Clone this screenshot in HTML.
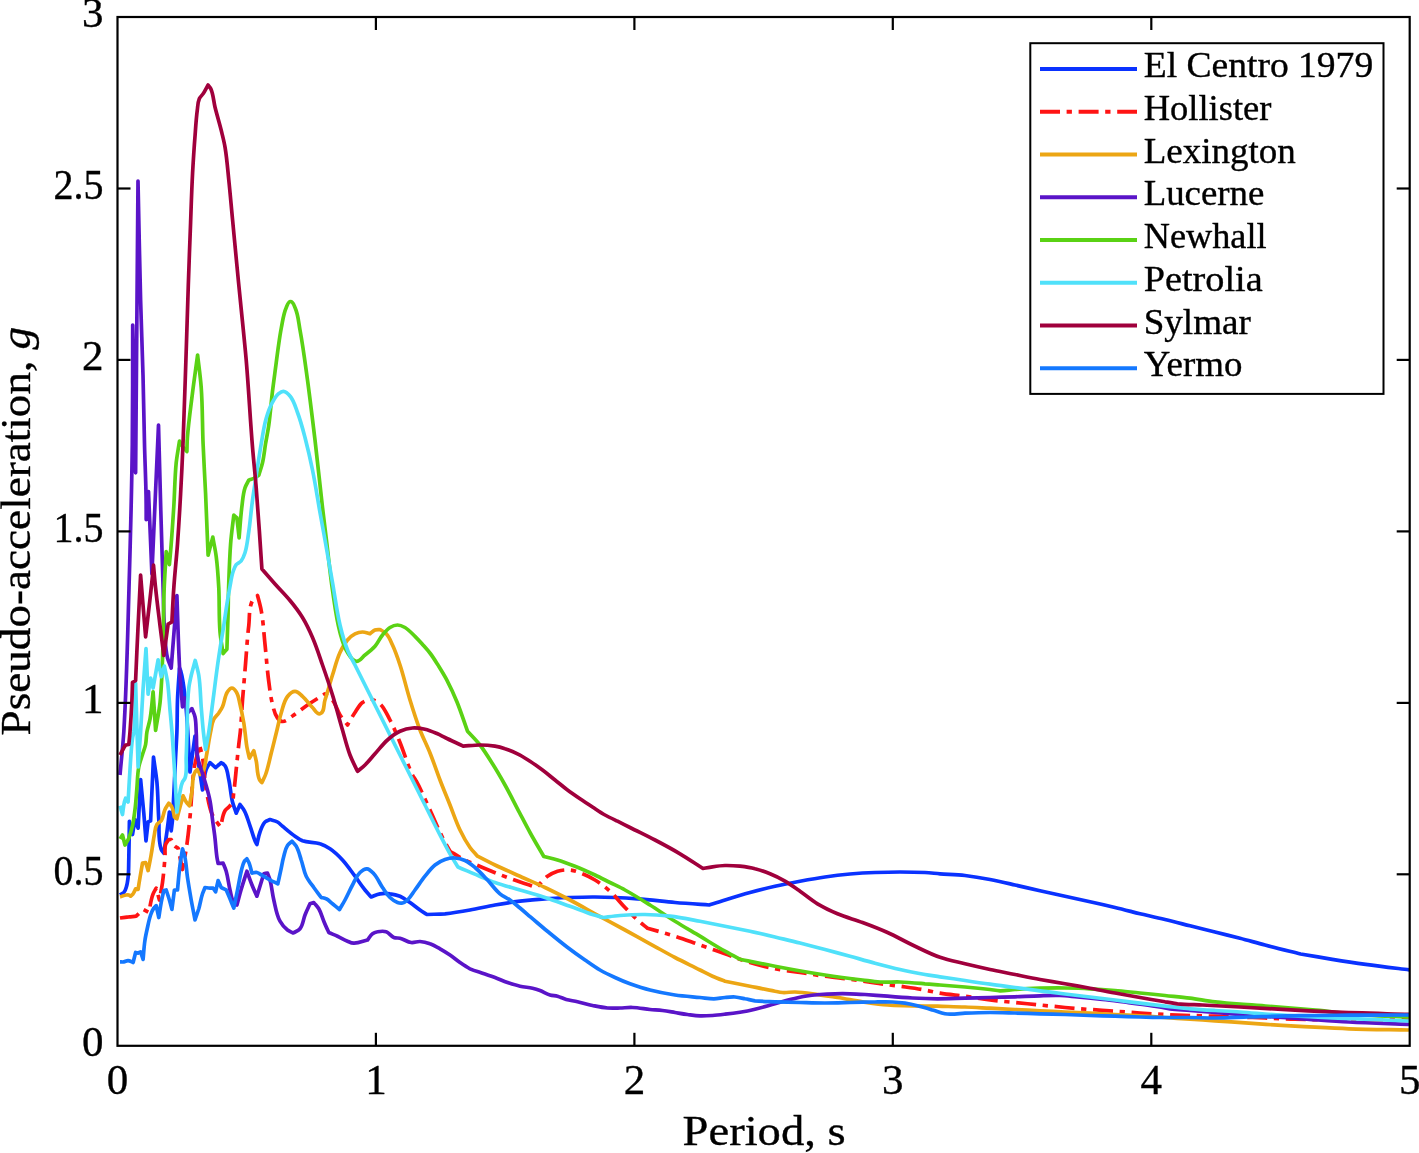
<!DOCTYPE html>
<html><head><meta charset="utf-8"><title>Response spectra</title>
<style>
html,body{margin:0;padding:0;background:#fff;}
body{width:1419px;height:1153px;overflow:hidden;}
svg{display:block;will-change:transform;}
text{font-family:"Liberation Serif",serif;fill:#000;stroke:#000;stroke-width:0.35px;}
</style></head><body>
<svg width="1419" height="1153" viewBox="0 0 1419 1153">
<rect width="1419" height="1153" fill="#fff"/>
<defs><clipPath id="pc"><rect x="117.5" y="17.0" width="1292.2" height="1028.8"/></clipPath></defs>
<g fill="none" stroke-width="3.7" stroke-linejoin="round" stroke-linecap="butt" clip-path="url(#pc)">
<path d="M120.0,895.0C121.2,894.2 122.8,893.6 123.8,892.5C125.0,891.1 125.7,889.3 126.2,887.5C127.3,884.3 127.7,880.9 128.1,877.5C128.8,871.3 128.6,865.0 128.8,858.8C129.1,846.3 129.2,833.9 129.4,821.4C130.4,825.8 131.5,830.1 132.5,834.5C133.3,829.5 134.2,824.5 135.0,819.5C136.0,822.4 137.1,825.3 138.1,828.2C138.9,812.0 139.8,795.8 140.6,779.5C141.7,790.8 142.8,802.0 143.8,813.2C144.6,822.4 145.2,831.6 146.0,840.8C146.7,834.5 147.4,828.2 148.1,822.0C148.9,821.6 149.8,821.2 150.6,820.8C151.6,799.5 152.5,778.2 153.5,757.0C154.6,765.3 156.1,773.6 156.9,782.0C158.1,794.5 157.9,807.0 158.8,819.5C159.4,829.5 157.9,840.0 161.2,849.5C161.7,850.9 162.9,852.0 163.8,853.2C164.8,846.2 165.9,839.1 166.9,832.0C167.8,825.3 168.6,818.7 169.4,812.0C170.0,818.2 170.6,824.5 171.2,830.8C171.7,827.0 172.2,823.3 172.5,819.5C173.2,811.2 173.3,802.8 173.8,794.5C174.4,782.0 175.0,769.5 175.6,757.0C176.0,748.7 176.6,740.3 176.9,732.0C177.3,721.3 177.1,710.7 177.5,700.0C177.9,689.3 178.8,678.7 179.5,668.0C179.9,668.8 180.3,669.6 180.6,670.5C183.1,679.0 184.0,687.9 185.0,696.8C187.9,721.7 188.3,746.9 190.0,772.0C191.7,760.0 193.3,748.0 195.0,736.0C196.0,744.0 196.9,752.0 198.0,760.0C199.4,770.0 201.0,780.0 202.5,790.0C203.8,783.2 203.9,776.1 206.2,769.5C207.1,767.0 208.8,764.9 210.0,762.6C211.9,764.3 213.7,765.9 215.6,767.6C217.5,765.9 219.4,764.3 221.2,762.6C222.5,763.6 224.1,764.4 225.0,765.8C227.6,769.8 227.7,774.9 228.8,779.5C230.4,786.9 230.7,794.6 232.5,802.0C233.5,805.8 235.0,809.5 236.2,813.2C237.5,810.3 238.8,807.4 240.0,804.5C241.5,806.6 243.2,808.5 244.4,810.8C246.9,815.5 248.2,820.7 250.0,825.8C251.8,830.7 253.0,835.9 255.0,840.8C255.5,842.0 256.3,843.2 256.9,844.5C257.9,840.3 258.5,836.0 260.0,832.0C261.3,828.5 262.4,824.6 265.0,822.0C266.3,820.7 268.3,820.3 270.0,819.5C272.5,820.3 275.2,820.7 277.5,822.0C279.4,823.1 280.8,824.9 282.5,826.2C286.6,829.6 290.6,833.2 295.0,836.2C297.4,837.9 299.8,839.7 302.5,840.8C308.0,842.8 314.4,841.9 320.0,843.8C323.5,844.9 326.9,846.7 330.0,848.8C334.6,851.9 338.7,855.9 342.5,860.0C347.1,865.0 350.9,870.8 355.0,876.2C358.4,880.8 361.4,885.6 365.0,890.0C367.0,892.4 369.2,894.7 371.2,897.0C374.2,895.9 376.9,894.3 380.0,893.8C383.3,893.2 386.7,893.3 390.0,893.8C393.4,894.2 396.8,894.9 400.0,896.2C403.6,897.8 406.8,900.3 410.0,902.5C413.4,904.9 416.6,907.6 420.0,910.0C422.3,911.6 424.7,913.0 427.0,914.5C433.0,914.2 439.0,914.3 445.0,913.8C453.4,912.9 461.7,911.5 470.0,910.0C478.4,908.5 486.6,906.5 495.0,905.0C503.3,903.5 511.6,902.3 520.0,901.2C528.3,900.2 536.6,899.4 545.0,898.8C553.3,898.1 561.7,897.8 570.0,897.5C578.3,897.2 586.7,896.9 595.0,897.0C609.2,897.1 623.4,897.8 637.5,898.8C650.0,899.6 662.5,901.4 675.0,902.5C686.4,903.5 697.8,904.2 709.2,905.0C714.5,903.3 719.7,901.6 725.0,900.0C733.3,897.4 741.6,894.8 750.0,892.5C758.3,890.2 766.6,888.1 775.0,886.2C783.3,884.4 791.6,882.8 800.0,881.2C808.3,879.7 816.6,878.2 825.0,877.0C833.3,875.8 841.6,874.8 850.0,874.0C858.3,873.3 866.7,872.8 875.0,872.5C883.3,872.2 891.7,872.0 900.0,872.0C908.3,872.0 916.7,872.1 925.0,872.5C930.0,872.8 935.0,873.4 940.0,873.8C948.3,874.4 956.7,874.5 965.0,875.5C973.4,876.5 981.7,877.9 990.0,879.5C998.4,881.1 1006.7,883.1 1015.0,885.0C1023.3,886.9 1031.7,888.9 1040.0,890.8C1048.3,892.6 1056.7,894.4 1065.0,896.2C1073.3,898.1 1081.7,899.9 1090.0,901.8C1098.3,903.6 1106.7,905.5 1115.0,907.5C1123.4,909.5 1131.6,911.7 1140.0,913.8C1148.3,915.7 1156.7,917.5 1165.0,919.5C1173.4,921.5 1181.7,923.7 1190.0,925.8C1198.3,927.8 1206.7,929.9 1215.0,932.0C1223.3,934.1 1231.7,936.1 1240.0,938.2C1248.4,940.4 1256.6,942.8 1265.0,945.0C1276.8,948.1 1288.7,951.0 1300.6,954.0C1311.2,955.8 1321.7,957.6 1332.3,959.3C1343.4,961.1 1354.5,962.8 1365.7,964.3C1380.2,966.3 1394.7,968.0 1409.2,969.8" stroke="#0a32ff"/>
<path d="M120.0,918.0C122.9,917.6 125.8,917.2 128.8,916.9C131.2,916.6 133.8,916.5 136.2,916.2C138.5,914.0 140.8,911.7 143.1,909.4C145.0,910.4 146.9,911.5 148.8,912.5C150.2,906.2 150.8,899.7 153.1,893.8C153.9,891.7 155.2,890.0 156.2,888.1C157.3,892.1 158.3,896.0 159.4,900.0C160.4,894.2 161.7,888.4 162.5,882.5C163.0,878.8 163.4,875.0 163.8,871.2C164.2,866.3 164.7,861.3 165.0,856.2C165.3,852.3 164.4,848.2 165.6,844.5C166.2,842.6 167.7,841.2 168.8,839.5C169.6,839.5 170.4,839.5 171.2,839.5C172.3,841.6 172.9,844.0 174.4,845.8C175.4,846.9 176.9,847.4 178.1,848.2C179.6,855.3 181.0,862.4 182.5,869.5C184.0,861.2 185.7,852.9 186.9,844.5C188.2,835.4 189.1,826.2 190.0,817.0C191.7,800.4 191.8,783.5 194.4,767.0C195.1,762.4 196.5,757.8 197.5,753.2C198.1,750.3 198.8,747.4 199.4,744.5C200.4,748.7 201.8,752.8 202.5,757.0C203.9,765.3 203.9,773.7 205.0,782.0C205.7,787.0 206.5,792.0 207.5,797.0C208.5,802.0 209.5,807.2 211.2,812.0C212.2,814.6 213.5,817.1 215.0,819.5C216.6,822.2 218.7,824.5 220.6,827.0C222.1,821.6 222.2,815.6 225.0,810.8C225.9,809.2 227.6,808.3 228.8,807.0C229.9,805.8 231.2,804.7 231.9,803.2C233.5,799.8 233.2,795.8 233.8,792.0C234.8,784.5 235.5,777.0 236.2,769.5C237.1,761.2 237.8,752.8 238.8,744.5C239.2,740.3 239.9,736.2 240.3,732.0C241.3,721.5 241.7,711.0 242.5,700.5C243.5,688.0 244.6,675.5 245.6,663.0C246.6,650.5 247.3,638.0 248.8,625.5C249.7,617.1 248.7,608.0 252.5,600.5C253.6,598.4 255.8,597.2 257.5,595.5C258.8,600.5 260.3,605.4 261.2,610.5C263.3,621.6 263.8,633.0 265.0,644.2C266.3,656.7 267.1,669.3 268.8,681.8C269.8,689.3 270.6,696.9 272.5,704.2C273.7,709.0 274.5,714.1 277.5,718.0C278.7,719.6 280.5,721.4 282.5,721.5C286.3,721.7 289.3,718.0 292.5,716.0C297.7,712.7 302.4,708.5 307.5,705.0C313.2,701.1 319.2,697.5 325.0,693.8C327.5,695.9 330.5,697.5 332.5,700.0C336.0,704.4 337.1,710.2 340.0,715.0C342.2,718.5 345.0,721.7 347.5,725.0C350.0,720.8 352.3,716.5 355.0,712.5C357.3,709.0 359.2,705.1 362.5,702.5C365.0,700.5 368.4,700.0 371.3,698.8C374.2,700.5 377.6,701.5 380.0,703.8C384.6,708.2 387.0,714.4 390.0,720.0C393.8,727.3 396.9,734.9 400.0,742.5C404.4,753.2 407.3,764.6 412.5,775.0C413.6,777.1 415.1,778.9 416.2,781.0C421.4,790.4 425.5,800.3 430.0,810.0C434.2,819.1 438.0,828.5 442.5,837.5C444.8,842.2 447.5,846.7 450.0,851.2C454.2,853.8 458.2,856.5 462.5,858.8C469.0,862.1 475.8,864.7 482.5,867.5C490.8,871.0 499.1,874.4 507.5,877.5C517.1,881.1 526.8,884.2 536.5,887.5C540.2,883.8 543.3,879.3 547.5,876.2C550.5,874.1 553.9,872.3 557.5,871.2C561.5,870.1 565.8,869.6 570.0,870.0C574.3,870.4 578.5,872.1 582.5,873.8C586.8,875.5 591.0,877.6 595.0,880.0C600.3,883.3 605.4,887.1 610.0,891.2C615.5,896.2 619.9,902.2 625.0,907.5C629.1,911.7 633.1,916.0 637.5,920.0C640.7,922.9 644.2,925.5 647.5,928.2C656.7,930.9 665.9,933.3 675.0,936.2C683.4,938.9 691.7,942.1 700.0,945.0C708.3,947.9 716.7,950.8 725.0,953.8C733.3,956.7 741.5,960.0 750.0,962.5C758.2,965.0 766.6,967.1 775.0,968.8C783.3,970.4 791.7,971.2 800.0,972.5C808.3,973.8 816.6,975.1 825.0,976.2C833.3,977.4 841.7,978.1 850.0,979.2C858.4,980.4 866.7,981.8 875.0,983.0C883.3,984.2 891.7,985.1 900.0,986.2C908.3,987.4 916.7,988.5 925.0,990.0C930.0,990.9 935.0,992.4 940.0,993.2C948.3,994.6 956.7,995.1 965.0,996.2C973.4,997.4 981.6,999.0 990.0,1000.0C998.3,1001.0 1006.7,1001.7 1015.0,1002.5C1023.3,1003.3 1031.7,1004.2 1040.0,1005.0C1048.3,1005.8 1056.7,1006.7 1065.0,1007.5C1073.3,1008.2 1081.7,1008.9 1090.0,1009.5C1098.3,1010.1 1106.7,1010.7 1115.0,1011.2C1123.3,1011.8 1131.7,1012.5 1140.0,1013.0C1148.3,1013.5 1156.7,1014.1 1165.0,1014.5C1173.3,1014.9 1181.7,1015.2 1190.0,1015.5C1198.3,1015.8 1206.7,1016.0 1215.0,1016.2C1223.3,1016.5 1231.7,1016.7 1240.0,1017.0C1248.3,1017.3 1256.7,1017.7 1265.0,1018.0C1275.0,1018.4 1285.0,1019.0 1295.0,1019.2C1333.0,1020.2 1371.0,1019.8 1409.0,1020.0" stroke="#ff1414" stroke-dasharray="20 6.6 5.3 6.7"/>
<path d="M120.0,896.9C122.1,896.3 124.1,895.3 126.2,895.0C127.1,894.9 128.0,894.8 128.8,895.0C129.5,895.2 130.0,895.8 130.6,896.2C131.4,895.4 132.4,894.7 133.1,893.8C134.2,892.2 134.8,890.4 135.6,888.8C136.4,889.0 137.3,889.2 138.1,889.4C138.7,885.4 139.3,881.5 140.0,877.5C140.8,872.7 141.7,867.9 142.5,863.1C143.5,862.9 144.6,862.7 145.6,862.5C146.4,865.2 147.3,867.9 148.1,870.6C149.2,865.2 150.3,859.9 151.2,854.5C152.4,847.9 153.1,841.1 154.4,834.5C155.1,831.1 155.1,827.4 156.9,824.5C157.9,822.9 160.2,822.3 161.2,820.8C163.5,817.5 163.3,813.1 165.0,809.5C166.0,807.3 167.5,805.3 168.8,803.2C169.8,804.5 171.2,805.5 171.9,807.0C173.5,810.1 173.6,813.7 174.4,817.0C175.2,817.6 176.1,818.3 176.9,818.9C177.9,814.9 178.9,811.0 180.0,807.0C181.0,803.2 182.1,799.5 183.1,795.8C184.2,797.8 185.0,800.1 186.2,802.0C187.1,803.4 188.3,804.5 189.4,805.8C190.2,801.2 191.1,796.6 191.9,792.0C193.0,785.3 191.9,778.0 195.0,772.0C195.5,770.9 196.7,770.3 197.5,769.5C198.3,771.2 199.2,772.8 200.0,774.5C201.2,772.8 202.9,771.4 203.8,769.5C205.5,765.6 205.5,761.2 206.2,757.0C207.8,748.7 208.9,740.3 210.6,732.0C211.5,727.7 211.8,723.2 213.8,719.2C214.9,716.9 217.2,715.2 218.8,713.0C220.1,711.0 221.5,709.0 222.5,706.8C224.7,702.0 224.6,696.1 227.5,691.8C228.6,690.2 230.0,688.0 231.9,688.0C233.8,688.0 235.2,690.1 236.2,691.8C238.6,695.4 238.9,700.0 240.0,704.2C241.5,710.4 242.7,716.7 243.8,723.0C244.3,726.0 244.6,729.0 245.0,732.0C245.7,737.0 246.0,742.0 246.9,747.0C247.6,750.8 248.6,754.5 249.4,758.2C250.8,755.8 252.3,753.2 253.8,750.8C254.6,754.1 255.5,757.4 256.2,760.8C257.5,767.0 256.8,773.7 259.4,779.5C259.9,780.7 261.1,781.6 261.9,782.6C263.1,779.9 264.6,777.3 265.6,774.5C268.1,767.6 269.4,760.3 271.2,753.2C273.1,746.2 274.7,739.1 276.5,732.0C278.1,725.7 279.3,719.2 281.2,713.0C283.0,707.4 283.9,701.1 287.5,696.5C289.4,694.1 292.0,691.3 295.0,691.3C298.0,691.3 300.2,694.3 302.5,696.3C306.3,699.6 308.9,704.0 312.5,707.5C314.8,709.8 316.8,714.6 320.0,713.8C324.7,712.5 323.5,704.6 325.0,700.0C327.7,691.7 329.9,683.3 332.5,675.0C334.9,667.5 336.7,659.7 340.0,652.5C342.0,648.1 344.3,643.7 347.5,640.0C349.6,637.5 352.1,635.2 355.0,633.8C357.3,632.7 359.9,632.0 362.5,632.0C365.1,632.0 367.5,633.2 370.0,633.8C371.7,632.5 373.1,630.8 375.0,630.0C376.6,629.4 378.3,629.7 380.0,629.5C382.1,630.9 384.6,631.9 386.3,633.8C389.2,637.0 390.7,641.1 392.5,645.0C395.5,651.5 397.8,658.2 400.0,665.0C403.8,676.5 406.4,688.4 410.0,700.0C413.1,710.1 416.2,720.2 420.0,730.0C423.0,737.8 426.9,745.2 430.0,753.0C433.6,761.9 436.6,771.0 440.0,780.0C443.2,788.4 446.7,796.7 450.0,805.0C453.3,813.3 456.1,821.9 460.0,830.0C462.9,836.1 466.1,842.0 470.0,847.5C472.2,850.6 475.0,853.3 477.5,856.2C483.3,859.2 489.1,862.2 495.0,865.0C503.3,868.9 511.7,872.5 520.0,876.2C528.3,880.0 536.7,883.6 545.0,887.5C553.4,891.5 561.7,895.7 570.0,900.0C578.4,904.4 586.7,909.2 595.0,913.8C605.0,919.2 615.0,924.6 625.0,930.0C633.3,934.6 641.7,939.2 650.0,943.8C658.3,948.3 666.6,953.1 675.0,957.5C683.3,961.8 691.7,965.8 700.0,970.0C704.2,972.1 708.3,974.3 712.5,976.2C716.6,978.1 720.8,979.6 725.0,981.2C733.3,982.9 741.7,984.6 750.0,986.2C758.3,987.9 766.6,989.7 775.0,991.2C777.5,991.7 780.0,992.3 782.5,992.5C786.7,992.8 790.8,991.9 795.0,992.0C800.9,992.2 806.7,993.0 812.5,993.8C820.9,994.8 829.2,996.2 837.5,997.5C845.8,998.8 854.1,1000.5 862.5,1001.8C870.8,1003.0 879.1,1004.3 887.5,1005.0C895.8,1005.7 904.2,1005.5 912.5,1005.8C920.8,1006.0 929.2,1006.1 937.5,1006.2C946.7,1006.5 955.8,1006.6 965.0,1007.0C973.3,1007.3 981.7,1007.8 990.0,1008.2C998.3,1008.7 1006.7,1009.1 1015.0,1009.5C1023.3,1009.9 1031.7,1010.3 1040.0,1010.8C1048.3,1011.2 1056.7,1011.6 1065.0,1012.0C1073.3,1012.4 1081.7,1012.8 1090.0,1013.2C1098.3,1013.7 1106.7,1014.1 1115.0,1014.5C1123.3,1014.9 1131.7,1015.3 1140.0,1015.8C1148.3,1016.3 1156.7,1016.9 1165.0,1017.5C1173.3,1018.1 1181.7,1018.7 1190.0,1019.2C1198.3,1019.8 1206.7,1020.2 1215.0,1020.8C1226.3,1021.5 1237.5,1022.4 1248.8,1023.2C1259.9,1024.0 1270.9,1024.7 1282.0,1025.4C1293.0,1026.1 1304.0,1026.6 1315.0,1027.2C1326.3,1027.8 1337.7,1028.4 1349.0,1028.8C1369.0,1029.5 1389.0,1029.6 1409.0,1030.0" stroke="#eca614"/>
<path d="M120.0,775.0C121.2,760.7 122.9,746.4 123.8,732.0C126.7,684.1 127.6,636.0 129.0,588.0C130.4,540.0 131.7,492.0 132.3,444.0C132.8,404.3 132.6,364.7 132.7,325.0C133.7,374.2 134.6,423.5 135.6,472.8C136.4,375.5 137.2,278.2 138.0,181.0C138.9,220.7 139.5,260.3 140.6,300.0C141.3,325.0 142.3,350.0 143.0,375.0C143.6,398.0 143.9,421.0 144.5,444.0C144.9,460.7 145.7,477.3 146.0,494.0C146.2,502.5 146.2,511.1 146.2,519.6C147.0,510.2 147.8,500.9 148.5,491.5C149.6,519.0 150.8,546.5 151.9,574.0C154.1,524.3 156.3,474.7 158.5,425.0C160.0,479.3 161.3,533.7 163.1,588.0C163.7,604.7 163.6,621.4 165.0,638.0C165.5,644.7 165.9,651.5 167.5,658.0C168.4,661.5 170.0,664.7 171.2,668.0C173.1,643.8 175.0,619.7 176.9,595.5C177.9,622.2 178.4,648.9 180.0,675.5C180.6,685.9 181.7,696.3 182.5,706.8C183.2,703.8 184.0,700.9 184.8,698.0C185.7,703.0 186.6,708.0 187.5,713.0C189.0,711.5 190.4,710.1 191.9,708.6C192.9,711.3 194.4,713.9 195.0,716.8C196.1,721.7 195.9,726.9 196.2,732.0C196.8,740.3 196.1,748.8 197.5,757.0C198.2,761.3 200.0,765.3 201.2,769.5C202.9,774.9 204.7,780.3 206.2,785.8C207.6,790.7 209.0,795.7 210.0,800.8C211.2,806.9 211.7,813.2 212.5,819.5C213.3,825.8 214.3,832.0 215.0,838.2C215.7,844.5 216.0,850.8 216.9,857.0C217.2,859.2 217.7,861.3 218.1,863.5C219.8,863.4 221.4,863.2 223.1,863.1C224.2,865.8 225.4,868.5 226.2,871.2C228.0,877.4 228.5,883.8 230.0,890.0C231.1,894.2 231.3,898.9 233.8,902.5C234.5,903.6 235.8,904.2 236.9,905.0C238.3,900.0 239.5,895.0 241.0,890.0C242.8,883.7 244.9,877.5 246.9,871.2C248.6,875.8 250.2,880.5 252.0,885.0C253.5,888.8 255.3,892.5 256.9,896.2C259.2,888.8 261.5,881.2 263.8,873.8C265.0,873.5 266.2,873.3 267.5,873.1C268.3,875.4 269.4,877.6 270.0,880.0C271.8,886.5 272.2,893.4 273.8,900.0C275.5,907.2 276.5,914.8 280.0,921.2C281.8,924.6 284.5,927.6 287.5,930.0C289.2,931.3 291.3,932.0 293.2,933.0C295.5,931.6 298.3,930.8 300.0,928.8C303.1,925.0 303.2,919.5 305.0,915.0C306.5,911.2 308.3,907.5 310.0,903.8C311.2,903.3 312.5,902.9 313.8,902.5C315.4,904.6 317.4,906.4 318.8,908.8C321.0,912.6 322.0,917.1 323.8,921.2C325.3,925.0 327.1,928.8 328.8,932.5C331.7,933.8 334.6,934.9 337.5,936.2C340.9,937.8 344.0,939.8 347.5,941.2C349.5,942.1 351.6,943.2 353.8,943.2C358.5,943.4 362.9,941.1 367.5,940.0C369.2,937.9 370.4,935.3 372.5,933.8C373.9,932.7 375.7,932.1 377.5,931.8C380.4,931.2 383.5,930.8 386.2,931.8C389.2,932.8 390.8,936.3 393.8,937.5C395.7,938.3 398.0,937.8 400.0,938.2C403.9,939.2 407.3,942.0 411.2,942.5C414.2,942.9 417.1,941.3 420.0,941.5C423.4,941.7 426.8,942.6 430.0,943.8C433.5,945.0 436.7,946.9 440.0,948.8C443.4,950.7 446.8,952.8 450.0,955.0C453.4,957.4 456.6,960.1 460.0,962.5C463.2,964.7 466.5,967.0 470.0,968.8C474.0,970.7 478.3,971.8 482.5,973.2C486.7,974.7 490.9,976.0 495.0,977.5C499.2,979.1 503.3,981.0 507.5,982.5C511.6,983.9 515.8,985.3 520.0,986.2C524.1,987.2 528.4,987.3 532.5,988.2C535.0,988.8 537.6,989.6 540.0,990.5C543.4,991.8 546.5,993.9 550.0,995.0C552.4,995.7 555.1,995.6 557.5,996.2C560.5,997.1 563.3,998.7 566.2,999.5C569.9,1000.5 573.8,1000.9 577.5,1001.8C582.5,1002.9 587.5,1004.5 592.5,1005.5C597.5,1006.5 602.4,1007.6 607.5,1008.0C611.7,1008.3 615.8,1008.1 620.0,1008.0C624.2,1007.9 628.3,1007.3 632.5,1007.5C638.4,1007.7 644.2,1008.9 650.0,1009.5C654.2,1009.9 658.3,1010.0 662.5,1010.5C666.7,1011.0 670.8,1011.8 675.0,1012.5C679.2,1013.2 683.3,1014.0 687.5,1014.5C691.7,1015.0 695.8,1015.6 700.0,1015.8C704.2,1015.9 708.3,1015.7 712.5,1015.5C716.7,1015.2 720.8,1014.7 725.0,1014.2C730.0,1013.7 735.0,1013.1 740.0,1012.2C745.0,1011.4 750.0,1010.4 755.0,1009.2C761.7,1007.7 768.3,1005.6 775.0,1003.8C780.0,1002.4 785.0,1000.8 790.0,999.5C795.0,998.3 800.0,997.1 805.0,996.2C810.0,995.4 815.0,994.9 820.0,994.5C825.0,994.1 830.0,993.9 835.0,993.8C840.0,993.6 845.0,993.6 850.0,993.8C855.0,993.9 860.0,994.2 865.0,994.5C872.5,995.0 880.0,995.7 887.5,996.2C895.8,996.9 904.2,997.6 912.5,998.0C920.8,998.4 929.2,998.7 937.5,998.8C946.7,998.8 955.8,998.5 965.0,998.2C973.3,998.0 981.7,997.8 990.0,997.5C998.3,997.2 1006.7,997.0 1015.0,996.8C1023.3,996.5 1031.7,996.0 1040.0,995.8C1046.7,995.6 1053.3,995.3 1060.0,995.5C1065.9,995.7 1071.7,996.5 1077.5,997.0C1085.8,997.8 1094.2,998.6 1102.5,999.5C1110.8,1000.4 1119.2,1001.5 1127.5,1002.5C1135.8,1003.5 1144.2,1004.5 1152.5,1005.8C1158.4,1006.6 1164.1,1008.0 1170.0,1008.8C1176.6,1009.6 1183.3,1009.9 1190.0,1010.5C1198.3,1011.2 1206.7,1011.8 1215.0,1012.5C1226.3,1013.4 1237.5,1014.4 1248.8,1015.2C1265.5,1016.5 1282.3,1017.5 1299.0,1018.6C1315.7,1019.7 1332.3,1021.1 1349.0,1022.0C1369.0,1023.1 1389.0,1023.6 1409.0,1024.4" stroke="#5a14c8"/>
<path d="M120.0,838.9C120.8,837.6 121.7,836.3 122.5,835.0C123.3,838.3 124.2,841.7 125.0,845.0C126.2,842.8 127.7,840.6 128.8,838.2C130.4,834.2 131.5,830.0 132.5,825.8C133.7,820.4 134.3,814.9 135.0,809.5C135.9,802.4 136.3,795.3 136.9,788.2C137.5,781.2 137.4,774.0 138.8,767.0C139.6,762.7 141.2,758.7 142.5,754.5C143.5,751.2 144.9,747.9 145.6,744.5C146.4,740.4 146.2,736.1 146.9,732.0C147.6,727.7 149.2,723.6 150.0,719.2C151.6,710.2 152.1,700.9 153.1,691.8C153.9,704.7 154.8,717.6 155.6,730.5C157.1,721.3 158.9,712.2 160.0,703.0C161.0,693.9 161.4,684.7 161.9,675.5C162.5,663.0 162.8,650.5 163.1,638.0C163.5,621.3 163.5,604.7 164.2,588.0C164.7,575.8 165.6,563.7 166.2,551.5C167.3,555.9 168.3,560.2 169.4,564.6C170.0,557.7 170.7,550.9 171.2,544.0C172.2,531.5 173.0,519.0 173.8,506.5C174.7,491.9 174.8,477.3 176.2,462.8C177.0,455.5 178.4,448.2 179.5,441.0C180.7,443.0 181.7,445.1 183.0,447.0C184.2,448.6 185.6,450.0 186.9,451.5C187.1,446.8 187.0,442.1 187.4,437.4C188.5,422.8 190.6,408.2 192.4,393.7C194.0,380.8 195.9,367.9 197.6,355.0C198.8,365.8 200.4,376.6 201.2,387.4C202.6,406.2 202.3,425.1 203.1,444.0C203.8,460.7 204.8,477.3 205.6,494.0C206.5,514.4 207.3,534.8 208.1,555.2C209.7,549.2 211.2,543.1 212.8,537.1C213.9,543.6 215.4,550.0 216.2,556.5C217.6,566.9 218.2,577.5 218.8,588.0C219.5,602.6 218.8,617.2 220.0,631.8C220.6,639.1 222.1,646.3 223.1,653.6C224.4,652.1 225.6,650.7 226.9,649.2C227.3,637.2 227.8,625.1 228.1,613.0C228.3,604.7 228.3,596.3 228.6,588.0C229.1,573.3 229.5,558.6 230.6,544.0C231.3,534.4 232.7,524.8 233.8,515.2C234.8,516.1 235.8,516.9 236.9,517.8C237.6,524.4 238.4,531.1 239.1,537.8C240.0,527.3 240.6,516.9 241.9,506.5C242.7,500.2 243.0,493.8 245.0,487.8C245.9,485.1 247.5,482.8 248.8,480.2C250.4,479.6 252.2,479.2 253.8,478.4C255.5,477.5 257.1,476.3 258.8,475.2C260.0,471.1 261.5,467.0 262.5,462.8C263.9,456.6 264.5,450.2 265.5,444.0C266.6,437.7 267.9,431.4 268.8,425.0C270.3,414.0 271.1,403.0 272.4,392.0C273.2,385.3 274.1,378.7 275.0,372.0C276.2,363.0 277.3,354.0 278.6,345.0C279.4,339.3 280.2,333.6 281.3,328.0C282.7,321.1 283.4,313.9 286.3,307.5C287.3,305.3 288.1,301.5 290.5,301.5C293.0,301.5 294.0,305.2 295.0,307.5C298.2,314.5 298.6,322.4 300.0,330.0C303.1,346.6 305.2,363.3 307.5,380.0C310.2,400.0 312.6,420.0 315.0,440.0C317.7,462.5 319.9,485.0 322.5,507.5C323.7,518.0 325.0,528.5 326.3,539.0C328.4,556.0 330.0,573.1 332.5,590.0C334.6,604.2 336.2,618.6 340.0,632.5C341.9,639.4 343.6,646.5 347.5,652.5C349.7,656.0 352.2,661.0 356.3,661.3C359.9,661.6 362.2,657.2 365.0,655.0C368.5,652.3 372.1,649.6 375.0,646.3C378.0,642.9 379.6,638.5 382.5,635.0C384.7,632.3 387.0,629.4 390.0,627.5C392.2,626.1 394.9,625.0 397.5,625.0C400.1,625.0 402.7,626.2 405.0,627.5C408.8,629.7 411.8,633.2 415.0,636.3C417.8,639.1 420.4,642.1 423.0,645.0C425.5,647.8 428.0,650.5 430.3,653.5C433.1,657.2 435.5,661.1 438.0,665.0C441.1,670.0 444.3,675.1 447.0,680.3C450.7,687.4 454.0,694.6 457.0,702.0C460.9,711.6 464.0,721.5 467.5,731.2C471.7,735.8 476.2,740.1 480.0,745.0C484.6,750.9 488.5,757.4 492.5,763.8C496.9,770.7 501.0,777.8 505.0,785.0C509.4,792.8 513.3,800.8 517.5,808.8C521.7,816.7 525.7,824.7 530.0,832.5C534.4,840.6 539.2,848.5 543.8,856.5C548.3,857.7 553.0,858.6 557.5,860.0C563.4,861.8 569.2,864.0 575.0,866.2C581.8,868.9 588.4,871.9 595.0,875.0C600.1,877.4 605.0,880.0 610.0,882.5C615.0,885.0 620.1,887.3 625.0,890.0C633.5,894.7 641.8,899.9 650.0,905.0C658.4,910.3 666.6,916.0 675.0,921.2C683.2,926.4 691.7,931.2 700.0,936.2C708.3,941.2 716.5,946.5 725.0,951.2C729.9,954.0 735.0,956.6 740.0,959.2C751.7,961.6 763.3,964.1 775.0,966.2C791.6,969.4 808.3,972.4 825.0,975.0C837.5,976.9 850.0,978.5 862.5,980.0C868.3,980.7 874.1,981.7 880.0,982.0C886.7,982.4 893.3,981.8 900.0,982.0C908.3,982.3 916.7,983.1 925.0,983.8C930.0,984.1 935.0,984.6 940.0,985.0C948.3,985.7 956.7,986.3 965.0,987.0C973.3,987.8 981.7,988.6 990.0,989.5C993.3,989.9 996.6,990.7 1000.0,990.8C1005.0,990.9 1010.0,989.8 1015.0,989.5C1023.3,988.9 1031.7,988.5 1040.0,988.2C1048.3,988.0 1056.7,987.9 1065.0,988.0C1073.3,988.1 1081.7,988.3 1090.0,988.8C1098.3,989.2 1106.7,989.8 1115.0,990.5C1123.3,991.2 1131.7,992.2 1140.0,993.0C1148.3,993.8 1156.7,994.6 1165.0,995.5C1173.3,996.4 1181.7,997.2 1190.0,998.2C1198.4,999.3 1206.6,1000.9 1215.0,1001.9C1223.3,1002.9 1231.7,1003.6 1240.0,1004.2C1248.5,1004.9 1257.0,1005.4 1265.5,1006.0C1282.2,1007.3 1298.9,1008.7 1315.6,1010.2C1332.3,1011.7 1349.0,1014.1 1365.7,1015.2C1380.1,1016.3 1394.6,1016.4 1409.0,1017.0" stroke="#5ad214"/>
<path d="M120.0,805.8C120.8,808.7 121.7,811.6 122.5,814.5C123.1,810.3 123.4,806.1 124.4,802.0C124.7,800.7 125.2,799.5 125.6,798.2C126.4,799.5 127.3,800.8 128.1,802.0C128.7,791.2 129.3,780.3 130.0,769.5C130.7,759.1 131.1,748.6 132.5,738.2C132.8,736.1 133.5,734.1 133.8,732.0C135.7,715.8 135.0,699.3 135.6,683.0C136.4,711.0 137.3,739.0 138.1,767.0C138.9,755.3 139.8,743.7 140.6,732.0C141.5,718.0 142.1,704.0 143.0,690.0C143.9,676.2 145.0,662.4 146.0,648.6C146.7,663.8 147.4,679.0 148.1,694.2C148.9,688.8 149.8,683.4 150.6,678.0C151.4,681.3 152.3,684.7 153.1,688.0C154.8,678.6 156.4,669.3 158.1,659.9C159.2,665.5 160.2,671.1 161.2,676.8C162.3,673.2 163.3,669.6 164.4,666.1C165.4,671.3 166.7,676.5 167.5,681.8C168.8,691.1 169.2,700.6 170.0,710.0C170.7,717.3 171.4,724.7 172.0,732.0C173.0,744.7 173.7,757.3 174.5,770.0C175.4,784.0 176.1,798.0 176.9,812.0C177.9,805.3 178.7,798.6 180.0,792.0C180.7,788.6 181.1,785.1 182.5,782.0C183.1,780.6 184.5,779.7 185.0,778.2C187.3,771.5 185.9,764.1 186.2,757.0C186.6,748.7 186.7,740.3 187.0,732.0C187.5,717.3 187.0,702.6 188.8,688.0C189.3,683.8 190.3,679.6 191.2,675.5C192.4,670.5 193.9,665.5 195.2,660.5C196.4,665.5 198.0,670.4 198.8,675.5C200.4,685.8 200.4,696.3 201.2,706.8C201.9,715.2 202.5,723.6 203.4,732.0C204.0,737.8 204.9,743.7 205.6,749.5C206.7,743.7 207.8,737.9 208.8,732.0C210.7,719.5 212.1,706.8 213.8,694.2C215.4,681.7 216.9,669.2 218.8,656.8C220.3,646.3 222.1,635.9 223.8,625.5C225.0,617.2 226.1,608.8 227.5,600.5C228.2,596.3 228.9,592.2 229.7,588.0C230.8,582.5 231.4,576.8 233.1,571.5C233.9,569.1 234.7,566.6 236.2,564.6C237.6,563.0 239.9,562.5 241.2,560.9C243.1,558.6 244.1,555.6 245.0,552.8C247.1,545.9 247.7,538.6 248.8,531.5C250.3,521.1 251.1,510.6 252.5,500.2C253.6,491.9 255.0,483.6 256.2,475.2C257.9,464.8 259.4,454.4 261.2,444.0C262.7,435.5 263.7,427.0 266.1,418.7C267.7,413.1 269.6,407.5 272.4,402.4C274.1,399.3 275.9,396.0 278.6,393.7C279.9,392.6 281.5,391.2 283.3,391.3C286.0,391.5 288.3,393.9 290.0,396.0C293.9,400.6 295.4,406.8 297.5,412.5C300.6,420.6 302.8,429.1 305.0,437.5C307.8,448.2 310.3,459.1 312.5,470.0C315.4,484.1 317.5,498.3 320.0,512.5C321.6,521.7 323.4,530.8 325.0,540.0C327.5,554.2 330.0,568.3 332.5,582.5C335.0,596.7 336.7,611.0 340.0,625.0C342.0,633.5 344.3,641.9 347.5,650.0C349.6,655.2 352.5,660.0 355.0,665.0C358.3,671.7 361.7,678.3 365.0,685.0C368.3,691.7 371.7,698.3 375.0,705.0C379.2,713.3 383.3,721.7 387.5,730.0C391.7,738.3 395.8,746.7 400.0,755.0C404.2,763.3 408.3,771.7 412.5,780.0C416.7,788.3 420.8,796.7 425.0,805.0C430.0,815.0 434.9,825.1 440.0,835.0C443.3,841.3 446.5,847.6 450.0,853.8C452.5,858.2 455.3,862.6 458.0,867.0C466.2,870.5 474.3,874.1 482.5,877.5C486.6,879.2 490.8,881.0 495.0,882.5C503.2,885.4 511.7,887.5 520.0,890.0C528.3,892.5 536.7,894.8 545.0,897.5C553.4,900.2 561.7,903.3 570.0,906.2C577.5,908.9 584.9,912.0 592.5,914.5C596.0,915.6 599.7,916.5 603.2,917.5C608.8,916.8 614.4,915.9 620.0,915.5C628.3,914.8 636.7,914.4 645.0,914.5C653.4,914.6 661.7,915.3 670.0,916.2C680.1,917.4 690.0,919.4 700.0,921.2C708.4,922.8 716.7,924.6 725.0,926.2C733.3,927.9 741.7,929.5 750.0,931.2C758.4,933.0 766.7,935.0 775.0,937.0C783.3,939.0 791.7,940.9 800.0,943.0C808.4,945.1 816.7,947.3 825.0,949.5C833.3,951.7 841.7,954.0 850.0,956.2C858.3,958.5 866.6,961.0 875.0,963.2C883.3,965.4 891.6,967.6 900.0,969.5C908.3,971.4 916.6,973.0 925.0,974.5C930.0,975.4 935.0,976.0 940.0,976.8C948.3,978.0 956.7,979.2 965.0,980.5C973.3,981.8 981.7,983.1 990.0,984.2C998.3,985.4 1006.7,986.4 1015.0,987.5C1023.3,988.6 1031.7,989.7 1040.0,990.8C1048.3,991.8 1056.7,993.0 1065.0,994.0C1073.3,995.0 1081.7,996.0 1090.0,997.0C1098.3,998.0 1106.7,999.0 1115.0,1000.0C1123.3,1001.0 1131.7,1002.2 1140.0,1003.2C1148.3,1004.3 1156.7,1005.3 1165.0,1006.2C1173.3,1007.2 1181.7,1008.0 1190.0,1008.8C1198.3,1009.5 1206.7,1010.0 1215.0,1010.5C1223.3,1011.0 1231.7,1011.4 1240.0,1012.0C1254.0,1013.0 1268.0,1014.4 1282.0,1015.2C1298.7,1016.3 1315.3,1017.0 1332.0,1017.8C1357.7,1018.9 1383.3,1019.9 1409.0,1021.0" stroke="#50e1fa"/>
<path d="M120.0,755.0C121.2,752.7 122.4,750.3 123.8,748.0C124.3,747.0 125.0,746.0 125.6,745.0C126.6,744.8 127.7,744.7 128.8,744.5C129.2,740.3 129.7,736.2 130.0,732.0C130.8,721.5 131.4,711.0 131.9,700.5C132.2,694.5 132.3,688.4 132.5,682.4C133.5,681.8 134.6,681.1 135.6,680.5C136.4,662.2 137.2,643.8 138.1,625.5C138.9,608.7 139.8,592.0 140.6,575.2C142.3,595.8 143.9,616.2 145.6,636.8C147.5,620.5 149.5,604.3 151.2,588.0C152.1,580.4 152.8,572.8 153.5,565.2C154.2,572.8 154.8,580.4 155.6,588.0C156.9,600.5 158.5,613.0 160.0,625.5C161.2,635.5 162.5,645.5 163.8,655.5C165.2,645.1 166.7,634.7 168.1,624.2C169.4,623.4 170.6,622.6 171.9,621.8C172.5,610.5 173.0,599.2 173.8,588.0C174.8,573.3 176.4,558.7 177.5,544.0C178.7,527.3 179.7,510.7 180.6,494.0C181.5,477.3 182.3,460.7 183.0,444.0C184.3,412.0 185.2,380.0 186.3,348.0C187.0,327.1 187.6,306.1 188.3,285.2C189.0,264.3 189.8,243.5 190.6,222.6C191.2,205.9 191.7,189.3 192.6,172.6C193.3,160.1 194.1,147.6 195.1,135.1C195.7,126.7 196.2,118.3 197.3,110.0C197.8,106.2 197.8,102.3 199.3,98.8C200.1,96.9 201.9,95.5 203.1,93.8C205.0,91.0 206.4,87.9 208.1,85.0C209.0,86.3 210.2,87.4 210.8,88.8C213.4,94.6 213.6,101.3 215.1,107.5C217.2,115.9 219.8,124.2 221.8,132.6C223.0,137.6 224.3,142.5 225.1,147.6C226.9,158.4 227.7,169.3 228.8,180.1C230.2,193.4 231.3,206.8 232.6,220.1C233.9,233.5 235.1,246.8 236.4,260.2C237.7,274.1 239.1,288.1 240.5,302.0C242.4,321.3 244.5,340.6 246.2,360.0C248.7,389.0 250.1,418.0 252.5,447.0C253.6,460.6 255.1,474.2 256.2,487.8C257.4,502.3 258.4,516.9 259.4,531.5C260.3,544.0 261.1,556.5 261.9,569.0C266.3,574.0 270.6,579.0 275.0,584.0C279.9,589.5 285.3,594.7 290.0,600.5C294.5,605.9 298.8,611.5 302.5,617.5C306.4,623.9 309.6,630.7 312.5,637.5C316.4,646.5 319.3,655.8 322.5,665.0C326.0,675.0 329.4,684.9 332.5,695.0C336.1,706.6 339.1,718.4 342.5,730.0C344.9,738.3 346.9,746.9 350.0,755.0C352.1,760.6 355.0,765.9 357.5,771.3C360.0,769.2 362.7,767.3 365.0,765.0C368.6,761.5 371.7,757.5 375.0,753.8C379.2,749.2 382.8,744.1 387.5,740.0C391.3,736.6 395.4,733.4 400.0,731.3C403.9,729.5 408.2,728.3 412.5,728.0C416.7,727.7 420.9,728.4 425.0,729.3C429.3,730.3 433.4,732.1 437.5,733.8C440.1,734.9 442.5,736.3 445.0,737.5C451.1,740.5 457.2,743.3 463.2,746.2C468.8,745.8 474.4,745.0 480.0,745.0C485.0,745.0 490.1,745.4 495.0,746.2C498.4,746.8 501.7,747.7 505.0,748.8C509.3,750.1 513.5,751.8 517.5,753.8C521.9,755.9 525.9,758.6 530.0,761.2C534.3,764.0 538.4,767.0 542.5,770.0C546.8,773.2 550.8,776.7 555.0,780.0C559.2,783.3 563.2,786.8 567.5,790.0C571.6,793.0 575.8,795.9 580.0,798.8C584.1,801.6 588.3,804.3 592.5,807.0C596.6,809.7 600.7,812.6 605.0,815.0C609.1,817.3 613.3,819.2 617.5,821.2C621.7,823.3 625.8,825.4 630.0,827.5C638.3,831.7 646.7,835.7 655.0,840.0C663.4,844.4 671.8,848.9 680.0,853.8C687.8,858.4 695.3,863.6 703.0,868.5C706.2,867.9 709.3,867.2 712.5,866.8C716.6,866.2 720.8,865.6 725.0,865.5C730.0,865.4 735.0,865.7 740.0,866.2C745.0,866.8 750.1,867.5 755.0,868.8C760.1,870.0 765.1,871.7 770.0,873.8C775.2,875.9 780.2,878.4 785.0,881.2C790.2,884.3 795.1,887.8 800.0,891.2C805.9,895.3 811.4,900.1 817.5,903.8C823.9,907.6 830.6,910.8 837.5,913.8C845.6,917.2 854.2,919.4 862.5,922.5C870.9,925.6 879.3,928.8 887.5,932.5C896.0,936.3 904.1,941.0 912.5,945.0C921.6,949.3 930.5,954.0 940.0,957.3C948.1,960.1 956.6,961.7 965.0,963.8C973.3,965.8 981.6,967.7 990.0,969.5C998.3,971.3 1006.7,972.8 1015.0,974.5C1023.3,976.2 1031.6,978.0 1040.0,979.5C1048.3,981.0 1056.7,982.3 1065.0,983.8C1073.3,985.2 1081.7,986.7 1090.0,988.2C1098.3,989.8 1106.7,991.5 1115.0,993.0C1123.3,994.5 1131.7,996.0 1140.0,997.5C1148.3,999.0 1156.7,1000.4 1165.0,1001.8C1169.2,1002.4 1173.3,1003.3 1177.5,1003.8C1185.8,1004.6 1194.2,1004.6 1202.5,1005.0C1215.0,1005.6 1227.5,1006.3 1240.0,1007.0C1254.0,1007.8 1268.0,1008.6 1282.0,1009.4C1298.7,1010.3 1315.3,1011.2 1332.0,1011.9C1357.7,1013.0 1383.3,1013.6 1409.0,1014.4" stroke="#a0003c"/>
<path d="M120.0,961.9C121.2,961.9 122.5,962.1 123.8,961.9C125.2,961.7 126.6,960.5 128.1,960.6C129.9,960.7 131.4,961.9 133.1,962.5C133.9,959.2 134.8,955.8 135.6,952.5C136.4,952.7 137.3,952.9 138.1,953.1C138.9,952.7 139.8,952.3 140.6,951.9C141.4,954.4 142.3,956.9 143.1,959.4C143.7,952.9 144.0,946.4 145.0,940.0C145.6,935.8 146.6,931.6 147.5,927.5C148.4,923.3 149.2,919.1 150.6,915.0C151.4,912.6 152.3,910.2 153.8,908.1C154.4,907.1 155.4,906.4 156.2,905.6C157.1,909.6 157.9,913.5 158.8,917.5C159.6,912.5 160.3,907.5 161.2,902.5C162.0,898.5 162.9,894.6 163.8,890.6C164.6,890.4 165.4,890.2 166.2,890.0C167.3,893.3 168.4,896.6 169.4,900.0C170.3,903.1 171.1,906.3 171.9,909.4C172.7,902.9 173.6,896.5 174.4,890.0C175.4,890.0 176.5,890.0 177.5,890.0C178.3,881.7 178.9,873.3 180.0,865.0C180.7,859.6 181.7,854.2 182.5,848.8C183.3,851.7 184.4,854.5 185.0,857.5C186.3,864.1 186.5,870.9 187.5,877.5C188.6,885.0 189.9,892.5 191.2,900.0C192.4,906.7 193.8,913.3 195.0,920.0C196.2,916.2 197.6,912.5 198.8,908.8C200.2,903.8 200.9,898.7 202.5,893.8C203.2,891.6 204.2,889.6 205.0,887.5C206.7,887.7 208.3,888.0 210.0,888.1C211.0,888.2 212.1,888.1 213.1,888.1C213.9,889.4 214.8,890.6 215.6,891.9C216.4,888.1 217.3,884.4 218.1,880.6C219.2,882.9 220.2,885.2 221.2,887.5C222.9,888.3 224.6,889.2 226.2,890.0C227.5,892.9 228.8,895.8 230.0,898.8C231.3,901.9 232.5,905.0 233.8,908.1C235.0,902.1 236.3,896.0 237.5,890.0C238.8,883.8 239.7,877.4 241.2,871.2C242.1,867.9 242.6,864.2 244.4,861.2C245.0,860.2 246.1,859.6 246.9,858.8C247.7,860.4 248.7,862.0 249.4,863.8C250.5,866.8 251.1,870.0 251.9,873.1C253.6,872.9 255.3,872.2 256.9,872.5C259.0,872.9 260.6,874.6 262.5,875.6C265.4,877.2 268.3,879.0 271.2,880.6C273.4,881.7 275.6,882.7 277.8,883.8C278.7,879.6 279.7,875.4 280.6,871.2C281.7,866.3 282.4,861.2 283.8,856.2C284.8,852.6 285.4,848.7 287.5,845.5C288.6,843.8 290.5,842.7 292.0,841.2C293.4,842.9 295.2,844.4 296.2,846.2C298.7,850.5 299.7,855.4 301.2,860.0C303.1,865.4 303.8,871.1 306.2,876.2C308.2,880.3 311.1,883.8 313.8,887.5C316.2,890.9 318.8,894.2 321.2,897.5C322.9,897.9 324.7,898.0 326.2,898.8C328.6,899.9 330.4,902.1 332.5,903.8C334.8,905.7 337.2,907.6 339.5,909.5C341.3,906.3 343.3,903.2 345.0,900.0C347.7,895.1 349.8,889.9 352.5,885.0C354.8,880.7 356.5,875.9 360.0,872.5C361.9,870.7 364.4,868.6 367.0,868.8C369.8,869.0 371.8,871.7 373.8,873.8C377.5,877.7 379.4,883.0 382.5,887.5C384.9,890.9 387.0,894.6 390.0,897.5C392.2,899.6 394.7,901.5 397.5,902.5C399.1,903.1 400.9,903.4 402.5,903.0C404.4,902.6 406.1,901.3 407.5,900.0C410.6,897.2 412.5,893.4 415.0,890.0C418.4,885.4 421.4,880.7 425.0,876.2C428.1,872.3 431.1,868.1 435.0,865.0C438.0,862.6 441.4,860.7 445.0,859.5C448.2,858.4 451.6,857.8 455.0,858.0C458.4,858.2 461.9,859.1 465.0,860.5C468.7,862.2 471.9,864.9 475.0,867.5C479.5,871.3 483.4,875.7 487.5,880.0C491.8,884.5 495.2,889.8 500.0,893.8C503.0,896.3 506.8,897.7 510.0,900.0C513.5,902.5 516.7,905.3 520.0,908.0C523.5,910.9 526.9,913.9 530.4,916.9C536.0,921.6 541.5,926.4 547.1,931.0C553.7,936.4 560.2,941.8 567.0,947.0C572.9,951.5 578.9,955.8 585.0,960.0C589.9,963.4 594.8,967.0 600.0,970.0C604.8,972.8 609.9,975.2 615.0,977.5C619.9,979.8 624.9,981.9 630.0,983.8C636.6,986.1 643.2,988.3 650.0,990.0C658.2,992.1 666.6,993.7 675.0,995.0C683.3,996.2 691.7,996.7 700.0,997.5C704.6,997.9 709.1,998.8 713.8,998.8C717.5,998.7 721.2,997.8 725.0,997.5C728.3,997.2 731.7,996.8 735.0,997.0C738.4,997.2 741.7,998.1 745.0,998.8C748.3,999.4 751.6,1000.3 755.0,1000.8C761.6,1001.6 768.3,1001.5 775.0,1001.8C783.3,1002.1 791.7,1002.3 800.0,1002.5C808.3,1002.7 816.7,1003.0 825.0,1003.0C833.3,1003.0 841.7,1002.7 850.0,1002.5C858.3,1002.3 866.7,1002.1 875.0,1002.0C880.8,1001.9 886.7,1001.7 892.5,1002.0C896.7,1002.2 900.9,1002.6 905.0,1003.2C909.2,1003.9 913.4,1004.8 917.5,1005.8C922.6,1007.0 927.5,1008.5 932.5,1010.0C936.7,1011.2 940.7,1012.9 945.0,1013.8C946.6,1014.1 948.3,1014.2 950.0,1014.2C955.0,1014.3 960.0,1013.5 965.0,1013.2C973.3,1012.8 981.7,1012.5 990.0,1012.5C998.3,1012.5 1006.7,1012.8 1015.0,1013.0C1023.3,1013.2 1031.7,1013.5 1040.0,1013.8C1048.3,1014.0 1056.7,1014.2 1065.0,1014.5C1073.3,1014.8 1081.7,1015.2 1090.0,1015.5C1098.3,1015.8 1106.7,1016.0 1115.0,1016.2C1123.3,1016.5 1131.7,1016.8 1140.0,1017.0C1148.3,1017.2 1156.7,1017.4 1165.0,1017.5C1173.3,1017.6 1181.7,1017.4 1190.0,1017.5C1198.5,1017.6 1206.9,1018.0 1215.4,1018.0C1226.5,1017.9 1237.7,1017.3 1248.8,1017.0C1265.5,1016.5 1282.3,1015.9 1299.0,1015.6C1315.7,1015.3 1332.3,1015.3 1349.0,1015.2C1369.0,1015.1 1389.0,1015.1 1409.0,1015.0" stroke="#1478ff"/>
</g>
<g stroke="#000" stroke-width="2.2" fill="none">
<rect x="117.5" y="17.0" width="1292.2" height="1028.8"/>
<line x1="375.9" y1="1045.8" x2="375.9" y2="1032.8"/><line x1="375.9" y1="17.0" x2="375.9" y2="30.0"/>
<line x1="634.4" y1="1045.8" x2="634.4" y2="1032.8"/><line x1="634.4" y1="17.0" x2="634.4" y2="30.0"/>
<line x1="892.8" y1="1045.8" x2="892.8" y2="1032.8"/><line x1="892.8" y1="17.0" x2="892.8" y2="30.0"/>
<line x1="1151.3" y1="1045.8" x2="1151.3" y2="1032.8"/><line x1="1151.3" y1="17.0" x2="1151.3" y2="30.0"/>
<line x1="117.5" y1="874.3" x2="130.5" y2="874.3"/><line x1="1409.7" y1="874.3" x2="1396.7" y2="874.3"/>
<line x1="117.5" y1="702.9" x2="130.5" y2="702.9"/><line x1="1409.7" y1="702.9" x2="1396.7" y2="702.9"/>
<line x1="117.5" y1="531.4" x2="130.5" y2="531.4"/><line x1="1409.7" y1="531.4" x2="1396.7" y2="531.4"/>
<line x1="117.5" y1="359.9" x2="130.5" y2="359.9"/><line x1="1409.7" y1="359.9" x2="1396.7" y2="359.9"/>
<line x1="117.5" y1="188.5" x2="130.5" y2="188.5"/><line x1="1409.7" y1="188.5" x2="1396.7" y2="188.5"/>
</g>
<g font-size="43">
<text x="117.5" y="1094" text-anchor="middle">0</text>
<text x="375.9" y="1094" text-anchor="middle">1</text>
<text x="634.4" y="1094" text-anchor="middle">2</text>
<text x="892.8" y="1094" text-anchor="middle">3</text>
<text x="1151.3" y="1094" text-anchor="middle">4</text>
<text x="1409.7" y="1094" text-anchor="middle">5</text>
<text x="103.6" y="1056.1" text-anchor="end">0</text>
<text x="103.6" y="884.6" text-anchor="end" textLength="50" lengthAdjust="spacingAndGlyphs">0.5</text>
<text x="103.6" y="713.2" text-anchor="end">1</text>
<text x="103.6" y="541.7" text-anchor="end" textLength="50" lengthAdjust="spacingAndGlyphs">1.5</text>
<text x="103.6" y="370.2" text-anchor="end">2</text>
<text x="103.6" y="198.8" text-anchor="end" textLength="50" lengthAdjust="spacingAndGlyphs">2.5</text>
<text x="103.6" y="27.3" text-anchor="end">3</text>
</g>
<text x="682.6" y="1145" font-size="42.5" textLength="163" lengthAdjust="spacingAndGlyphs">Period, s</text>
<text transform="translate(29.7,735.4) rotate(-90)" font-size="42.5" textLength="408.5" lengthAdjust="spacingAndGlyphs">Pseudo-acceleration, <tspan font-style="italic">g</tspan></text>
<rect x="1030.3" y="43.2" width="353.2" height="350.7" fill="#fff" stroke="#000" stroke-width="2"/>
<g font-size="35">
<line x1="1040" y1="69.0" x2="1137" y2="69.0" stroke="#0a32ff" stroke-width="4"/><text x="1143.7" y="77.0" textLength="229.5" lengthAdjust="spacingAndGlyphs">El Centro 1979</text>
<line x1="1040" y1="111.8" x2="1137" y2="111.8" stroke="#ff1414" stroke-width="4" stroke-dasharray="20 6.6 5.3 6.7" stroke-dashoffset="0"/><text x="1143.7" y="119.8" textLength="127.7" lengthAdjust="spacingAndGlyphs">Hollister</text>
<line x1="1040" y1="154.5" x2="1137" y2="154.5" stroke="#eca614" stroke-width="4"/><text x="1143.7" y="162.5" textLength="152.2" lengthAdjust="spacingAndGlyphs">Lexington</text>
<line x1="1040" y1="197.3" x2="1137" y2="197.3" stroke="#5a14c8" stroke-width="4"/><text x="1143.7" y="205.3" textLength="120.7" lengthAdjust="spacingAndGlyphs">Lucerne</text>
<line x1="1040" y1="240.0" x2="1137" y2="240.0" stroke="#5ad214" stroke-width="4"/><text x="1143.7" y="248.0" textLength="122.9" lengthAdjust="spacingAndGlyphs">Newhall</text>
<line x1="1040" y1="282.8" x2="1137" y2="282.8" stroke="#50e1fa" stroke-width="4"/><text x="1143.7" y="290.8" textLength="119" lengthAdjust="spacingAndGlyphs">Petrolia</text>
<line x1="1040" y1="325.6" x2="1137" y2="325.6" stroke="#a0003c" stroke-width="4"/><text x="1143.7" y="333.6" textLength="107.1" lengthAdjust="spacingAndGlyphs">Sylmar</text>
<line x1="1040" y1="368.3" x2="1137" y2="368.3" stroke="#1478ff" stroke-width="4"/><text x="1143.7" y="376.3" textLength="98.7" lengthAdjust="spacingAndGlyphs">Yermo</text>
</g>
</svg>
</body></html>
